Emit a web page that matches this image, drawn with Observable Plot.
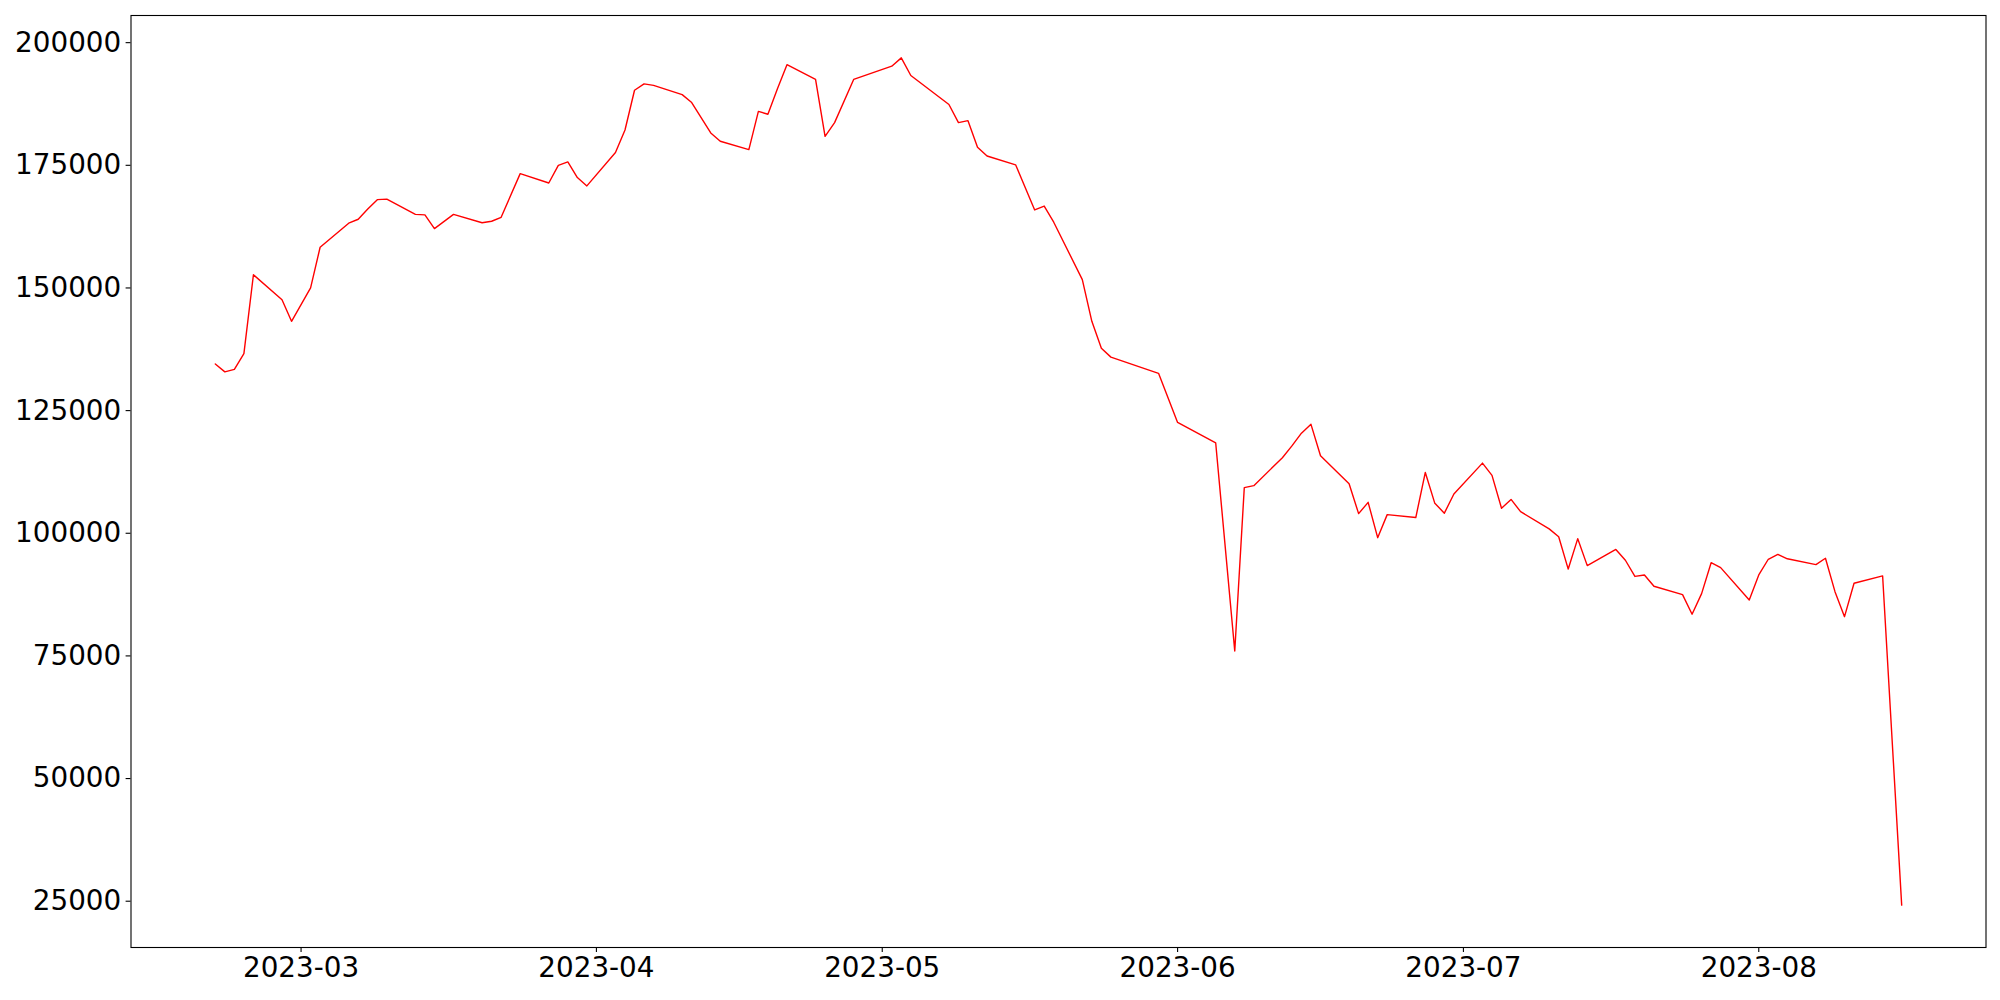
<!DOCTYPE html>
<html><head><meta charset="utf-8">
<script src="https://cdn.jsdelivr.net/npm/d3@7"></script>
<script src="https://cdn.jsdelivr.net/npm/@observablehq/plot@0.6"></script>
<style>body{margin:0;background:#fff}</style>
</head><body><div id="chart"></div>
<script>
const dates = [
  "2023-02-20","2023-02-21","2023-02-22","2023-02-23","2023-02-24","2023-02-27","2023-02-28",
  "2023-03-02","2023-03-03","2023-03-06","2023-03-07","2023-03-08","2023-03-09","2023-03-10",
  "2023-03-13","2023-03-14","2023-03-15","2023-03-17","2023-03-20","2023-03-21","2023-03-22",
  "2023-03-24","2023-03-27","2023-03-28","2023-03-29","2023-03-30","2023-03-31",
  "2023-04-03","2023-04-04","2023-04-05","2023-04-06","2023-04-07","2023-04-10","2023-04-11",
  "2023-04-13","2023-04-14","2023-04-17","2023-04-18","2023-04-19","2023-04-20","2023-04-21",
  "2023-04-24","2023-04-25","2023-04-26","2023-04-28","2023-05-02","2023-05-03","2023-05-04",
  "2023-05-08","2023-05-09","2023-05-10","2023-05-11","2023-05-12","2023-05-15","2023-05-17",
  "2023-05-18","2023-05-19","2023-05-22","2023-05-23","2023-05-24","2023-05-25","2023-05-30",
  "2023-06-01","2023-06-05","2023-06-07","2023-06-08","2023-06-09","2023-06-12","2023-06-13",
  "2023-06-14","2023-06-15","2023-06-16","2023-06-19","2023-06-20","2023-06-21","2023-06-22",
  "2023-06-23","2023-06-26","2023-06-27","2023-06-28","2023-06-29","2023-06-30","2023-07-03",
  "2023-07-04","2023-07-05","2023-07-06","2023-07-07","2023-07-10","2023-07-11","2023-07-12",
  "2023-07-13","2023-07-14","2023-07-17","2023-07-18","2023-07-19","2023-07-20","2023-07-21",
  "2023-07-24","2023-07-25","2023-07-26","2023-07-27","2023-07-28","2023-07-31","2023-08-01",
  "2023-08-02","2023-08-03","2023-08-04","2023-08-07","2023-08-08","2023-08-09","2023-08-10",
  "2023-08-11","2023-08-14","2023-08-16"
];
const values = [
  134500,132900,133400,136600,152700,147600,143200,
  150000,158300,163200,164000,166100,168000,168100,
  165000,164900,162100,165000,163300,163600,164400,
  173300,171400,175000,175700,172500,170800,
  177600,182200,190300,191600,191300,189400,187800,
  181600,179900,178200,186000,185400,190600,195500,
  192500,180900,183700,192500,195200,196900,193300,
  187400,183700,184100,178700,176900,175100,165900,
  166700,163400,151700,143200,137700,135900,132600,
  122600,118400,76000,109300,109700,115400,117800,
  120400,122200,115800,110100,104000,106300,99100,
  103800,103200,112400,106100,104100,108000,114300,
  111800,105100,106900,104400,100900,99300,92700,
  98900,93400,96700,94500,91200,91500,89200,
  87500,83500,87700,94000,93000,86400,91500,
  94700,95700,94800,93600,94900,88100,83000,
  89800,91300,24200
];
const yTicks = [25000, 50000, 75000, 100000, 125000, 150000, 175000, 200000];
const xTickLabels = ["2023-03", "2023-04", "2023-05", "2023-06", "2023-07", "2023-08"];

const data = dates.map((d, i) => ({date: new Date(d + "T00:00:00Z"), value: values[i]}));
const t0 = data[0].date, t1 = data[data.length - 1].date;
const padT = (t1 - t0) * 0.05;
const vmin = d3.min(values), vmax = d3.max(values), padV = (vmax - vmin) * 0.05;

const chart = Plot.plot({
  width: 2000, height: 1000,
  marginLeft: 130.5, marginRight: 14.5, marginTop: 15, marginBottom: 53,
  style: {fontFamily: "'DejaVu Sans'", fontSize: "27.8px", background: "white", color: "black"},
  x: {type: "utc", domain: [new Date(+t0 - padT), new Date(+t1 + padT)]},
  y: {domain: [vmin - padV, vmax + padV]},
  marks: [
    Plot.line(data, {x: "date", y: "value", stroke: "red", strokeWidth: 1.4}),
    Plot.axisX({ticks: xTickLabels.map(s => new Date(s + "-01T00:00:00Z")), tickFormat: d3.utcFormat("%Y-%m"),
      tickSize: 4.9, tickPadding: 4.9, strokeWidth: 1.1, fontSize: 27.8, label: null}),
    Plot.axisY({ticks: yTicks, tickFormat: d => String(d), tickSize: 4.9, tickPadding: 4.9,
      strokeWidth: 1.1, fontSize: 27.8, label: null}),
    Plot.frame({stroke: "black", strokeWidth: 1.1})
  ]
});
document.getElementById("chart").appendChild(chart);
</script>
</body></html>
